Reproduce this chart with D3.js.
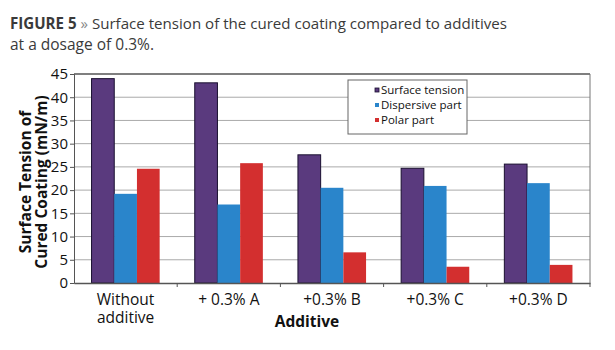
<!DOCTYPE html>
<html>
<head>
<meta charset="utf-8">
<script src="https://cdn.jsdelivr.net/npm/d3@7"></script>
<style>
  body { margin: 0; background: #fff; }
  svg { display: block; font-family: "Open Sans", sans-serif; }
</style>
</head>
<body>
<svg id="chart" width="615" height="350"></svg>
<script>
// Dữ liệu
const categories = ["Without additive", "+ 0.3% A", "+0.3% B", "+0.3% C", "+0.3% D"];
const seriesNames = ["Surface tension", "Dispersive part", "Polar part"];
const surfaceTension = [44.0, 43.1, 27.6, 24.7, 25.6];
const dispersivePart = [19.2, 16.9, 20.5, 20.9, 21.5];
const polarPart = [24.6, 25.8, 6.6, 3.5, 3.9];
const yTicks = [0, 5, 10, 15, 20, 25, 30, 35, 40, 45];

const colors = ["#5a3a7e", "#2a85cb", "#d32f2f"];
const seriesValues = [surfaceTension, dispersivePart, polarPart];

const data = categories.map((c, i) => ({
  cat: c,
  values: seriesNames.map((s, j) => ({ key: s, value: seriesValues[j][i], idx: j }))
}));

const svg = d3.select("#chart");
const margin = { top: 74, right: 25, bottom: 67, left: 74 };
const width = 615 - margin.left - margin.right,
      height = 350 - margin.top - margin.bottom;

// Tiêu đề
const title = svg.append("text")
  .attr("x", 10).attr("y", 29)
  .style("font-size", "15.1px")
  .style("fill", "#3a3a3a");
title.append("tspan").style("font-weight", "bold").text("FIGURE 5");
title.append("tspan").style("fill", "#888").text(" » ");
title.append("tspan").text("Surface tension of the cured coating compared to additives");
svg.append("text")
  .attr("x", 10).attr("y", 50)
  .style("font-size", "15.5px")
  .style("fill", "#3a3a3a")
  .text("at a dosage of 0.3%.");

const g = svg.append("g").attr("transform", `translate(${margin.left},${margin.top})`);

// Thang đo
const x0 = d3.scaleBand().domain(categories).range([0, width]).padding(0);
const groupW = x0.bandwidth() * 0.66;
const x1 = d3.scaleBand().domain(seriesNames).range([0, groupW]).padding(0);
const y = d3.scaleLinear().domain([0, 45]).range([height, 0]);

// Lưới
g.selectAll("line.grid")
  .data(yTicks.filter(t => t > 0))
  .enter().append("line")
    .attr("class", "grid")
    .attr("x1", 0).attr("x2", width)
    .attr("y1", d => y(d)).attr("y2", d => y(d))
    .attr("stroke", d => d === 45 ? "#555" : "#aaa")
    .attr("stroke-width", d => d === 45 ? 1.5 : 1);

// Khung phải
g.append("line")
  .attr("x1", width).attr("x2", width)
  .attr("y1", 0).attr("y2", height)
  .attr("stroke", "#777");

// Cột
const groups = g.selectAll("g.cat")
  .data(data)
  .enter().append("g")
    .attr("class", "cat")
    .attr("transform", d => `translate(${x0(d.cat) + (x0.bandwidth() - groupW) / 2},0)`);

groups.selectAll("rect")
  .data(d => d.values)
  .enter().append("rect")
    .attr("x", d => x1(d.key))
    .attr("y", d => y(d.value))
    .attr("width", x1.bandwidth())
    .attr("height", d => height - y(d.value))
    .attr("fill", d => colors[d.idx])
    .attr("stroke", d => d.idx === 0 ? "#1a1030" : "none")
    .attr("stroke-width", 1);

// Trục Y
const yAxis = g.append("g")
  .call(d3.axisLeft(y).tickValues(yTicks).tickSize(4).tickPadding(2));
yAxis.select(".domain").attr("stroke", "#555");
yAxis.selectAll(".tick line").attr("stroke", "#555");
yAxis.selectAll("text")
  .style("font-size", "15px")
  .style("font-family", "Open Sans, sans-serif")
  .attr("fill", "#111");

// Trục X
const xAxis = g.append("g")
  .attr("transform", `translate(0,${height})`)
  .call(d3.axisBottom(x0).tickSize(0).tickFormat(""));
xAxis.select(".domain").attr("stroke", "#555").attr("stroke-width", 1.5);

g.selectAll("line.xtick")
  .data(categories)
  .enter().append("line")
    .attr("class", "xtick")
    .attr("x1", d => x0(d) + x0.bandwidth())
    .attr("x2", d => x0(d) + x0.bandwidth())
    .attr("y1", height).attr("y2", height + 4)
    .attr("stroke", "#555");

// Nhãn trục X (tách dòng)
categories.forEach(d => {
  const parts = d === "Without additive" ? ["Without", "additive"] : [d];
  parts.forEach((p, i) => {
    g.append("text")
      .attr("class", "xlab")
      .attr("x", x0(d) + x0.bandwidth() / 2)
      .attr("y", height + 22 + i * 18)
      .attr("text-anchor", "middle")
      .style("font-size", "15.5px")
      .style("fill", "#111")
      .text(p);
  });
});

// Tiêu đề trục X
svg.append("text")
  .attr("x", 307).attr("y", 327)
  .attr("text-anchor", "middle")
  .style("font-size", "15.5px")
  .style("font-weight", "bold")
  .style("fill", "#111")
  .text("Additive");

// Tiêu đề trục Y
const yTitle = svg.append("text")
  .attr("transform", "translate(0,182) rotate(-90)")
  .attr("text-anchor", "middle")
  .style("font-size", "15.5px")
  .style("font-weight", "bold")
  .style("fill", "#111");
yTitle.append("tspan").attr("x", 0).attr("y", 31).text("Surface Tension of");
yTitle.append("tspan").attr("x", 0).attr("y", 47).text("Cured Coating (mN/m)");

// Chú giải
const legend = svg.append("g").attr("transform", "translate(348,80)");
legend.append("rect")
  .attr("width", 119).attr("height", 54)
  .attr("fill", "#fff")
  .attr("stroke", "#666");
seriesNames.forEach((s, i) => {
  legend.append("rect")
    .attr("x", 27).attr("y", 8 + i * 15)
    .attr("width", 4).attr("height", 4)
    .attr("fill", colors[i])
    .attr("stroke", i === 0 ? "#1a1030" : "none")
    .attr("stroke-width", 0.8);
  legend.append("text")
    .attr("x", 33).attr("y", 14 + i * 15)
    .style("font-size", "11.5px")
    .style("fill", "#111")
    .text(s);
});
</script>
</body>
</html>
